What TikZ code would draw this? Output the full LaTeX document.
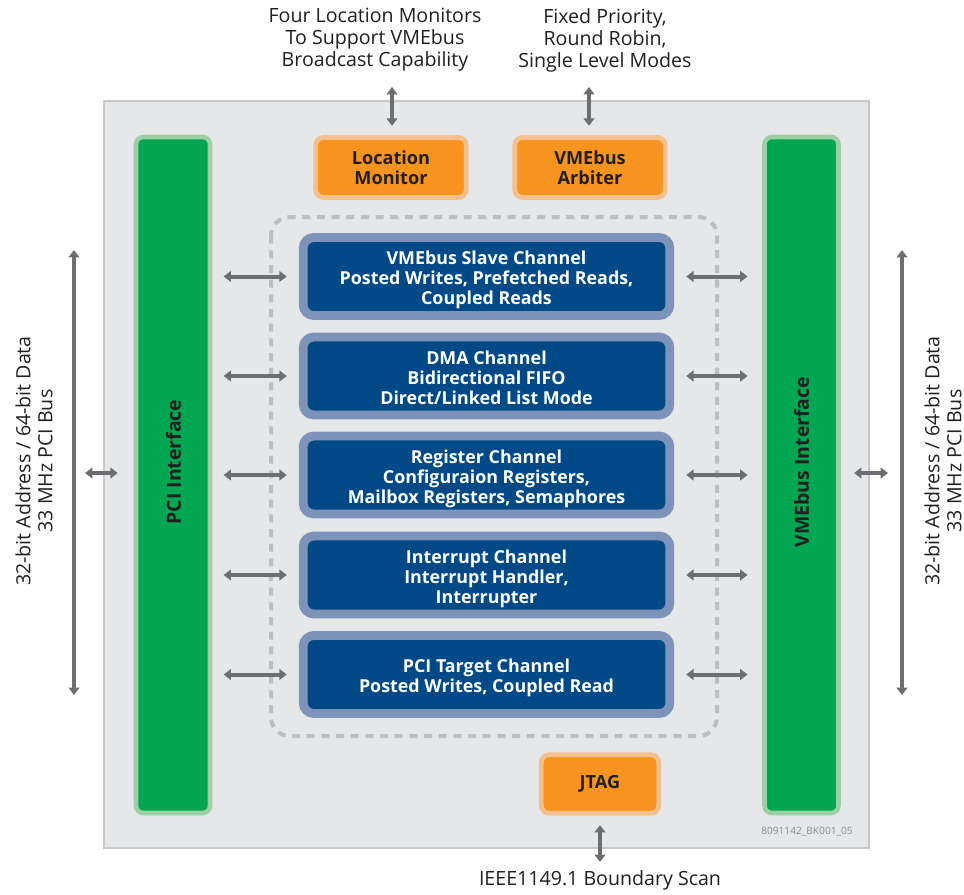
\documentclass[tikz,border=0pt]{standalone}
\usepackage{fontspec}
\setmainfont{Open Sans}
\usetikzlibrary{arrows.meta}
\definecolor{bggray}{HTML}{E6E7E8}
\definecolor{bgline}{HTML}{C7C8CA}
\definecolor{dblue}{HTML}{004987}
\definecolor{lblue}{HTML}{7D93B9}
\definecolor{dgreen}{HTML}{00A651}
\definecolor{lgreen}{HTML}{9CCFA6}
\definecolor{orng}{HTML}{F7941E}
\definecolor{lorng}{HTML}{F3C08E}
\definecolor{agray}{HTML}{6D6E71}
\definecolor{dashgray}{HTML}{BCBEC0}
\definecolor{txt}{HTML}{231F20}
\newcommand\chtxt[1]{\raisebox{-3pt}[\height][\depth]{\begin{tabular}{@{}c@{}}#1\end{tabular}}}
\tikzset{
  chan/.style={draw=lblue, fill=dblue, line width=6.6pt, rounded corners=8pt,
    minimum width=275pt, minimum height=58.5pt, text=white,
    font=\bfseries\fontsize{13.4}{15}\selectfont, inner sep=0pt},
  iface/.style={draw=lgreen, fill=dgreen, line width=3.4pt, rounded corners=5.5pt,
    minimum width=55.5pt, minimum height=507pt, inner sep=0pt},
  ifacetext/.style={rotate=90, text=txt, font=\bfseries\fontsize{14.6}{16}\selectfont},
  obox/.style={draw=lorng, fill=orng, line width=3.6pt, rounded corners=6pt,
    minimum width=113pt, minimum height=45pt, text=txt, align=center,
    font=\bfseries\fontsize{13.6}{15}\selectfont, inner sep=0pt},
  biarrow/.style={draw=agray, line width=3pt, {Triangle[width=8pt,length=5.5pt]}-{Triangle[width=8pt,length=5.5pt]}},
  lbl/.style={text=txt, align=center, font=\fontsize{14.7}{16.5}\selectfont, inner sep=0pt},
}
\begin{document}
\begin{tikzpicture}[x=0.75pt,y=-0.75pt]
\useasboundingbox (0,0) rectangle (964,894);
\fill[white] (0,0) rectangle (964,894);
\draw[bgline, fill=bggray, line width=1.2pt] (104,101) rectangle (869,848);
\draw[dashgray, line width=3pt, dash pattern=on 6pt off 5pt, rounded corners=14pt] (271,217) rectangle (717,736);

% interfaces
\node[iface] (pci) at (173,475) {};
\node[iface] (vme) at (801.5,475) {};
\node[ifacetext] (pcit) at (173.5,462) {PCI Interface};
\node[ifacetext] (vmet) at (801.5,462) {VMEbus Interface};

% orange boxes
\node[obox] (lm) at (391,167.5) {Location\\Monitor};
\node[obox] (arb) at (590,167.5) {VMEbus\\Arbiter};
\node[obox, minimum width=88pt, minimum height=44pt] (jtag) at (600,784) {JTAG};

% channels
\node[chan] (c1) at (486.5,276.5) {\chtxt{VMEbus Slave Channel\\Posted Writes, Prefetched Reads,\\Coupled Reads}};
\node[chan] (c2) at (486.5,376) {\chtxt{DMA Channel\\Bidirectional FIFO\\Direct/Linked List Mode}};
\node[chan] (c3) at (486.5,475) {\chtxt{Register Channel\\Configuraion Registers,\\Mailbox Registers, Semaphores}};
\node[chan] (c4) at (486.5,575) {\chtxt{Interrupt Channel\\Interrupt Handler,\\Interrupter}};
\node[chan] (c5) at (486.5,674.5) {\chtxt{PCI Target Channel\\Posted Writes, Coupled Read}};

\foreach \c in {c1,c2,c3,c4,c5}{
  \draw[biarrow, shorten <=8.5pt, shorten >=9pt] (pci.east |- \c) -- (\c.west);
  \draw[biarrow, shorten <=9pt, shorten >=11pt] (\c.east) -- (vme.west |- \c);
}

% bus lines
\coordinate (lbt) at (74,250);
\coordinate (lbb) at (74,695);
\coordinate (rbt) at (902,250);
\coordinate (rbb) at (902,695);
\draw[biarrow, line width=3.6pt] (lbt) -- (lbb);
\draw[biarrow, line width=3.6pt] (rbt) -- (rbb);
\coordinate (lbs) at (85,473);
\coordinate (rbs) at (888,473);
\draw[biarrow, shorten >=12pt] (lbs) -- (pci.west |- lbs);
\draw[biarrow, shorten >=10pt] (rbs) -- (vme.east |- rbs);

\node[lbl, rotate=90] (lt) at (34,461) {32-bit Address / 64-bit Data\\33 MHz PCI Bus};
\node[lbl, rotate=90] (rt) at (943,461) {32-bit Address / 64-bit Data\\33 MHz PCI Bus};

% top / bottom
\node[lbl] (tl) at (375,40) {Four Location Monitors\\To Support VMEbus\\Broadcast Capability};
\node[lbl] (tr) at (605,40) {Fixed Priority,\\Round Robin,\\Single Level Modes};
\coordinate (lma) at (392,87);
\coordinate (arba) at (589,87);
\draw[biarrow, shorten >=7pt] (lma) -- (lm.north -| lma);
\draw[biarrow, shorten >=7pt] (arba) -- (arb.north -| arba);
\coordinate (jb) at (600,862);
\draw[biarrow, shorten <=7pt] (jtag.south) -- (jb);
\node[lbl] (bl) at (600,880) {IEEE1149.1 Boundary Scan};
\node[text=agray!80, font=\fontsize{7.6}{9}\selectfont, inner sep=0pt] (wm) at (807,832) {8091142\_BK001\_05};
\end{tikzpicture}
\end{document}
